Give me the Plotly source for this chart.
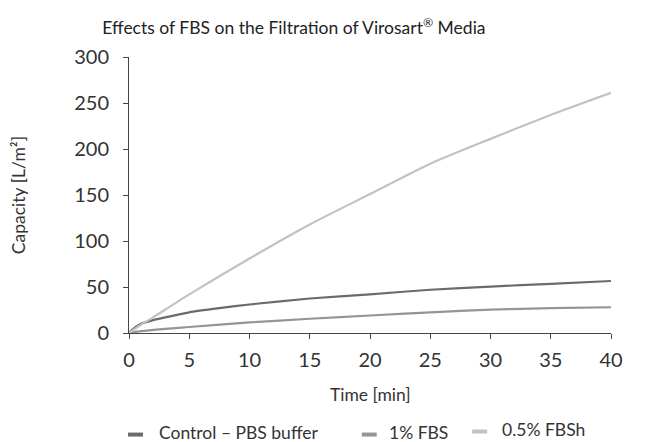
import plotly.graph_objects as go

time_ctrl = [0, 0.5, 1, 2, 3, 5, 7.5, 10, 15, 20, 25, 30, 35, 40]
ctrl = [0, 6, 10, 14, 17, 22.5, 27, 31, 37.5, 42, 47, 50.5, 53.5, 56.5]

time_fbs = [0, 1, 2.5, 5, 10, 15, 20, 25, 30, 35, 40]
fbs1 = [0, 2, 4, 6.5, 11.5, 15.5, 19, 22.5, 25.5, 27, 28]

time_fbsh = [0, 1, 2, 5, 10, 15, 20, 25, 30, 35, 40]
fbsh = [0, 9, 17, 42, 81, 118, 151, 184, 211, 237, 261]

x_ticks = [0, 5, 10, 15, 20, 25, 30, 35, 40]
y_ticks = [0, 50, 100, 150, 200, 250, 300]

names = ["Control – PBS buffer", "1% FBS", "0.5% FBSh"]
colors = ["#6b6b6d", "#959597", "#c2c2c4"]

font = "Lato, Open Sans, sans-serif"

fig = go.Figure()
for t, v, n, c in [(time_ctrl, ctrl, names[0], colors[0]),
                   (time_fbs, fbs1, names[1], colors[1]),
                   (time_fbsh, fbsh, names[2], colors[2])]:
    fig.add_trace(go.Scatter(x=t, y=v, name=n, mode="lines", showlegend=False,
                             line=dict(color=c, width=2.2, shape="spline", smoothing=0.6)))

# custom legend (short thick line symbols + text), paper coordinates
leg_sym = [(-0.002, 0.029, -0.368), (0.483, 0.514, -0.368), (0.712, 0.743, -0.357)]
leg_txt = [(0.058, -0.360), (0.535, -0.360), (0.770, -0.349)]
for (x0, x1, y), (tx, ty), n, c in zip(leg_sym, leg_txt, names, colors):
    fig.add_shape(type="line", xref="paper", yref="paper", x0=x0, x1=x1, y0=y, y1=y,
                  line=dict(color=c, width=4))
    fig.add_annotation(xref="paper", yref="paper", x=tx, y=ty, text=n, showarrow=False,
                       xanchor="left", yanchor="middle", font=dict(size=17.5, color="#333333"))

# axis titles
fig.add_annotation(xref="paper", yref="paper", x=0.5, y=-0.222, text="Time [min]",
                   showarrow=False, xanchor="center", yanchor="middle",
                   font=dict(size=17.5, color="#333333"))
fig.add_annotation(xref="paper", yref="paper", x=-0.230, y=0.5, text="Capacity [L/m²]",
                   showarrow=False, xanchor="center", yanchor="middle", textangle=-90,
                   font=dict(size=17.5, color="#333333"))

fig.update_layout(
    width=668, height=442,
    margin=dict(l=129, r=57, t=57, b=109),
    paper_bgcolor="white", plot_bgcolor="white",
    font=dict(family=font, color="#333333", size=20),
    showlegend=False,
    title=dict(text="Effects of FBS on the Filtration of Virosart<sup>®</sup> Media",
               x=0.44, xanchor="center", y=0.937, yanchor="middle",
               font=dict(size=17.5, color="#222222")),
    xaxis=dict(range=[0, 40], tickvals=x_ticks,
               showgrid=False, zeroline=False, showline=True, linecolor="#444444",
               linewidth=1, ticks="outside", ticklen=5, tickcolor="#444444",
               automargin=False, ticklabelstandoff=4),
    yaxis=dict(range=[0, 300], tickvals=y_ticks,
               showgrid=False, zeroline=False, showline=True, linecolor="#444444",
               linewidth=1, ticks="outside", ticklen=5, tickcolor="#444444",
               automargin=False, ticklabelstandoff=10),
)

fig.write_html("out.html", config={"displayModeBar": False},
               post_script="document.body.style.margin='0';")
